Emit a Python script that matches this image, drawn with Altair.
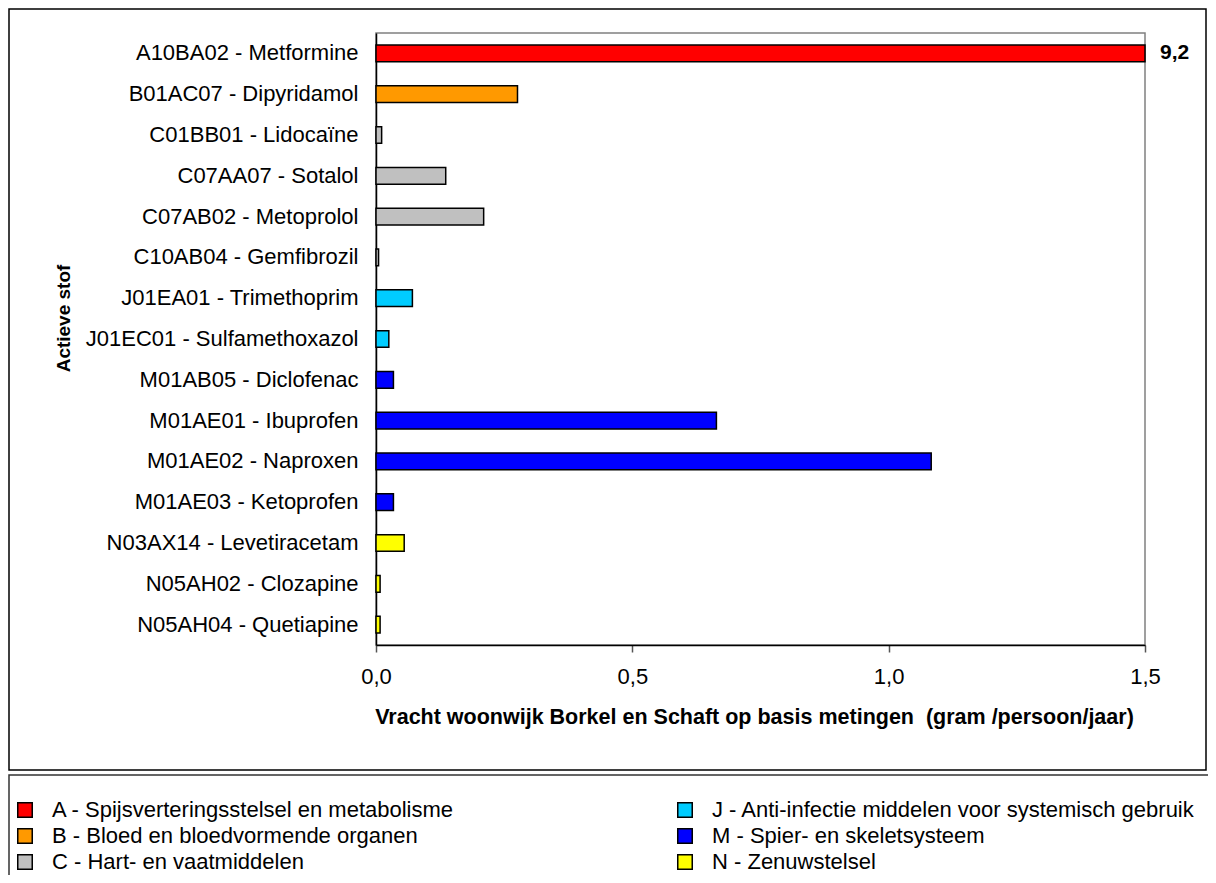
import altair as alt
import pandas as pd

# ---- data ----
stoffen = [
    "A10BA02 - Metformine",
    "B01AC07 - Dipyridamol",
    "C01BB01 - Lidocaïne",
    "C07AA07 - Sotalol",
    "C07AB02 - Metoprolol",
    "C10AB04 - Gemfibrozil",
    "J01EA01 - Trimethoprim",
    "J01EC01 - Sulfamethoxazol",
    "M01AB05 - Diclofenac",
    "M01AE01 - Ibuprofen",
    "M01AE02 - Naproxen",
    "M01AE03 - Ketoprofen",
    "N03AX14 - Levetiracetam",
    "N05AH02 - Clozapine",
    "N05AH04 - Quetiapine",
]
vracht = [9.2, 0.276, 0.011, 0.136, 0.21, 0.005, 0.071, 0.025,
          0.034, 0.664, 1.083, 0.034, 0.055, 0.008, 0.008]
groep_code = ["A", "B", "C", "C", "C", "C", "J", "J", "M", "M", "M", "M", "N", "N", "N"]

groep_namen = {
    "A": "A - Spijsverteringsstelsel en metabolisme",
    "B": "B - Bloed en bloedvormende organen",
    "C": "C - Hart- en vaatmiddelen",
    "J": "J - Anti-infectie middelen voor systemisch gebruik",
    "M": "M - Spier- en skeletsysteem",
    "N": "N - Zenuwstelsel",
}
groep_kleuren = {
    "A": "#FF0000",
    "B": "#FF9900",
    "C": "#C0C0C0",
    "J": "#00CCFF",
    "M": "#0000FF",
    "N": "#FFFF00",
}
legend_volgorde = ["A", "B", "C", "J", "M", "N"]
x_ticks = [0, 0.5, 1.0, 1.5]

FONT = "Liberation Sans"

df = pd.DataFrame({
    "stof": stoffen,
    "vracht": vracht,
    "groep": [groep_namen[g] for g in groep_code],
})

y_enc = alt.Y(
    "stof:N",
    sort=stoffen,
    scale=alt.Scale(paddingInner=0.59, paddingOuter=0.295),
    axis=alt.Axis(
        title="Actieve stof",
        titleFont=FONT, titleFontSize=19, titleFontWeight="bold", titleColor="black",
        titleAngle=-90, titleX=-313, titleY=285, titleAlign="center", titleBaseline="middle",
        labelFont=FONT, labelFontSize=22, labelColor="black", labelPadding=18,
        labelLimit=0, ticks=False, tickSize=0,
        domainColor="black", domainWidth=1.5,
    ),
)
x_enc = alt.X(
    "vracht:Q",
    scale=alt.Scale(domain=[0, 1.5], clamp=True, nice=False, zero=True),
    axis=alt.Axis(
        title="Vracht woonwijk Borkel en Schaft op basis metingen \u00a0(gram /persoon/jaar)",
        titleFont=FONT, titleFontSize=21.5, titleFontWeight="bold", titleColor="black",
        titleX=378, titleY=72, titleAlign="center", titleBaseline="middle",
        values=x_ticks,
        labelExpr="replace(format(datum.value, '.1f'), '.', ',')",
        labelFont=FONT, labelFontSize=22, labelColor="black", labelPadding=14,
        labelFlush=False, labelOverlap=False,
        tickSize=7, tickColor="#555555", tickWidth=1.5,
        domainColor="black", domainWidth=1.5, grid=False,
    ),
)

bars = alt.Chart(df).mark_bar(stroke="black", strokeWidth=1.5).encode(
    x=x_enc,
    y=y_enc,
    color=alt.Color(
        "groep:N",
        scale=alt.Scale(
            domain=[groep_namen[g] for g in legend_volgorde],
            range=[groep_kleuren[g] for g in legend_volgorde],
        ),
        legend=alt.Legend(
            title=None, orient="none", legendX=-362, legendY=766,
            columns=2, columnPadding=219, rowPadding=4, padding=0,
            symbolType="square", symbolSize=210, symbolStrokeColor="black",
            symbolStrokeWidth=1.5, labelFont=FONT, labelFontSize=22,
            labelColor="black", labelOffset=16, labelLimit=0,
        ),
    ),
)

waarde_label = alt.Chart(df).transform_filter(
    "datum.vracht > 1.5"
).transform_calculate(
    lbl="replace(format(datum.vracht, '.1f'), '.', ',')"
).mark_text(
    align="left", baseline="middle", dx=15, font=FONT, fontSize=21, fontWeight="bold", color="black"
).encode(x=x_enc, y=y_enc, text="lbl:N")

kader_df = pd.DataFrame({"k": [0]})
buitenkader = alt.Chart(kader_df).mark_rect(
    fillOpacity=0, stroke="black", strokeWidth=1.5
).encode(x=alt.value(-367), x2=alt.value(830), y=alt.value(-24), y2=alt.value(737))
legendakader = alt.Chart(kader_df).mark_rect(
    fillOpacity=0, stroke="#333333", strokeWidth=1.5
).encode(x=alt.value(-367), x2=alt.value(900), y=alt.value(742), y2=alt.value(900))

chart = alt.layer(buitenkader, legendakader, bars, waarde_label).properties(
    width=769,
    height=612,
    autosize="none",
    padding={"left": 368, "top": 25, "right": 63, "bottom": 230},
    background="white",
).configure_view(
    stroke="#808080", strokeWidth=1.5
)

chart.save("out.html", embed_options={"renderer": "svg", "actions": False})
